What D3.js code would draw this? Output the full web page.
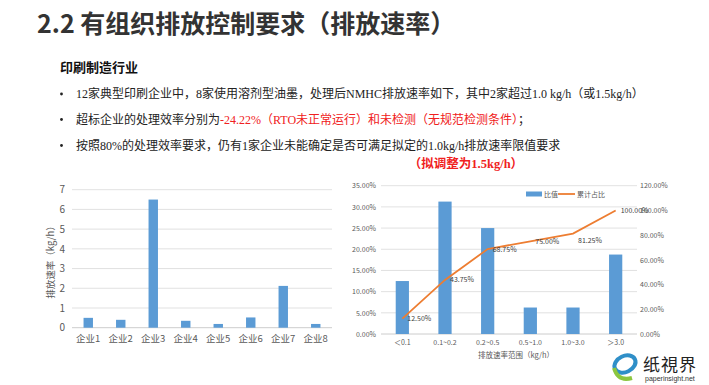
<!DOCTYPE html>
<html>
<head>
<meta charset="utf-8">
<script src="https://cdn.jsdelivr.net/npm/d3@7"></script>
<style>
  body { margin: 0; background: #fff; }
  svg { display: block; }
</style>
</head>
<body>
<script>
// left chart data
var companies = ['企业1', '企业2', '企业3', '企业4', '企业5', '企业6', '企业7', '企业8'],
    rates = [0.5, 0.4, 6.5, 0.35, 0.19, 0.52, 2.12, 0.19],
    leftTicks = [0, 1, 2, 3, 4, 5, 6, 7];

// right chart data
var ranges = ['＜0.1', '0.1~0.2', '0.2~0.5', '0.5~1.0', '1.0~3.0', '＞3.0'],
    ratio = [0.125, 0.3125, 0.25, 0.0625, 0.0625, 0.1875],
    cumulative = [0.125, 0.4375, 0.6875, 0.75, 0.8125, 1.0],
    ratioTicks = [0, 0.05, 0.10, 0.15, 0.20, 0.25, 0.30, 0.35],
    cumTicks = [0, 0.2, 0.4, 0.6, 0.8, 1.0, 1.2];

var W = 709, H = 385,
    serif = '"Liberation Serif", "Times New Roman", "Noto Sans CJK SC", serif',
    sans = '"Noto Sans CJK SC", "Liberation Sans", sans-serif',
    blue = '#5b9bd5', orange = '#ed7d31', grid = '#d9d9d9', tickCol = '#595959';

var svg = d3.select('body').append('svg')
    .attr('width', W)
    .attr('height', H);

//title
svg.append('text')
    .attr('x', 37).attr('y', 32.5)
    .attr('font-family', sans)
    .attr('font-size', '25px')
    .attr('font-weight', 'bold')
    .attr('fill', '#333')
    .text('2.2 有组织排放控制要求（排放速率）');

svg.append('text')
    .attr('x', 60).attr('y', 71.5)
    .attr('font-family', serif)
    .attr('font-size', '13px')
    .attr('font-weight', 'bold')
    .attr('fill', '#111')
    .text('印刷制造行业');

//bullet lines, each one a list of [text, colour] pieces
var bullets = [
    [['12家典型印刷企业中，8家使用溶剂型油墨，处理后NMHC排放速率如下，其中2家超过1.0 kg/h（或1.5kg/h）', '#222']],
    [['超标企业的处理效率分别为', '#222'], ['-24.22%（RTO未正常运行）和未检测（无规范检测条件）', '#f02020'], ['；', '#222']],
    [['按照80%的处理效率要求，仍有1家企业未能确定是否可满足拟定的1.0kg/h排放速率限值要求', '#222']]
];
var bulletY = [98, 123.5, 149.5];
bullets.forEach(function (parts, i) {
    svg.append('circle')
        .attr('cx', 61.5).attr('cy', bulletY[i] - 4)
        .attr('r', 1.4)
        .attr('fill', '#222');
    var t = svg.append('text')
        .attr('x', 76).attr('y', bulletY[i])
        .attr('font-family', serif)
        .attr('font-size', '12px');
    parts.forEach(function (p) {
        t.append('tspan').attr('fill', p[1]).text(p[0]);
    });
});

svg.append('text')
    .attr('x', 466).attr('y', 168)
    .attr('text-anchor', 'middle')
    .attr('font-family', serif)
    .attr('font-size', '12.5px')
    .attr('font-weight', 'bold')
    .attr('fill', '#f02020')
    .text('（拟调整为1.5kg/h）');

// ---------- left chart ----------
var lx = d3.scaleBand()
    .domain(companies)
    .range([72, 332])
    .paddingInner(0.71)
    .paddingOuter(0.355);
var ly = d3.scaleLinear()
    .domain([0, 7])
    .range([327.7, 189.7]);

var left = svg.append('g');
left.selectAll('line.grid')
    .data(leftTicks)
    .enter().append('line')
    .attr('class', 'grid')
    .attr('x1', 72).attr('x2', 332)
    .attr('y1', function (d) { return ly(d); })
    .attr('y2', function (d) { return ly(d); })
    .attr('stroke', function (d) { return d === 0 ? '#bfbfbf' : grid; })
    .attr('stroke-width', 0.8);

var lyAxis = d3.axisLeft(ly).tickValues(leftTicks).tickFormat(d3.format('d')).tickSize(0).tickPadding(7);
left.append('g')
    .attr('transform', 'translate(72,0)')
    .call(lyAxis)
    .call(function (g) { g.select('.domain').remove(); })
    .selectAll('text')
    .attr('font-family', sans)
    .attr('font-size', '10px')
    .attr('fill', tickCol);

left.selectAll('rect')
    .data(rates)
    .enter().append('rect')
    .attr('x', function (d, i) { return lx(companies[i]); })
    .attr('y', function (d) { return ly(d); })
    .attr('width', lx.bandwidth())
    .attr('height', function (d) { return ly(0) - ly(d); })
    .attr('fill', blue);

var lxAxis = d3.axisBottom(lx).tickSize(0).tickPadding(8);
left.append('g')
    .attr('transform', 'translate(0,' + ly(0) + ')')
    .call(lxAxis)
    .call(function (g) { g.select('.domain').remove(); })
    .selectAll('text')
    .attr('font-family', sans)
    .attr('font-size', '9.5px')
    .attr('fill', tickCol);

left.append('text')
    .attr('transform', 'translate(54,260) rotate(-90)')
    .attr('text-anchor', 'middle')
    .attr('font-family', sans)
    .attr('font-size', '9.5px')
    .attr('fill', tickCol)
    .text('排放速率（kg/h）');

// ---------- right chart ----------
var rx = d3.scaleBand()
    .domain(ranges)
    .range([381, 637])
    .paddingInner(0.69)
    .paddingOuter(0.345);
var ryL = d3.scaleLinear().domain([0, 0.35]).range([334, 185.7]);
var ryR = d3.scaleLinear().domain([0, 1.2]).range([334, 185.7]);
var pct = d3.format('.2%');

var right = svg.append('g');
right.selectAll('line.grid')
    .data(ratioTicks)
    .enter().append('line')
    .attr('class', 'grid')
    .attr('x1', 381).attr('x2', 637)
    .attr('y1', function (d) { return ryL(d); })
    .attr('y2', function (d) { return ryL(d); })
    .attr('stroke', function (d) { return d === 0 ? '#bfbfbf' : grid; })
    .attr('stroke-width', 0.8);

right.append('g')
    .attr('transform', 'translate(381,0)')
    .call(d3.axisLeft(ryL).tickValues(ratioTicks).tickFormat(pct).tickSize(0).tickPadding(5))
    .call(function (g) { g.select('.domain').remove(); })
    .selectAll('text')
    .attr('font-family', sans)
    .attr('font-size', '7px')
    .attr('fill', tickCol);

right.append('g')
    .attr('transform', 'translate(637,0)')
    .call(d3.axisRight(ryR).tickValues(cumTicks).tickFormat(pct).tickSize(0).tickPadding(3))
    .call(function (g) { g.select('.domain').remove(); })
    .selectAll('text')
    .attr('font-family', sans)
    .attr('font-size', '7px')
    .attr('fill', tickCol);

right.selectAll('rect.bar')
    .data(ratio)
    .enter().append('rect')
    .attr('class', 'bar')
    .attr('x', function (d, i) { return rx(ranges[i]); })
    .attr('y', function (d) { return ryL(d); })
    .attr('width', rx.bandwidth())
    .attr('height', function (d) { return ryL(0) - ryL(d); })
    .attr('fill', blue);

var cx = function (d, i) { return rx(ranges[i]) + rx.bandwidth() / 2; };
var line = d3.line()
    .x(cx)
    .y(function (d) { return ryR(d); });
right.append('path')
    .datum(cumulative)
    .attr('d', line)
    .attr('fill', 'none')
    .attr('stroke', orange)
    .attr('stroke-width', 1.8);

right.selectAll('text.lbl')
    .data(cumulative)
    .enter().append('text')
    .attr('class', 'lbl')
    .attr('x', function (d, i) { return cx(d, i) + 5; })
    .attr('y', function (d, i) { return ryR(d) + (i === 4 ? 9 : 2.5); })
    .attr('font-family', sans)
    .attr('font-size', '7px')
    .attr('fill', '#404040')
    .text(function (d) { return pct(d); });

right.append('g')
    .attr('transform', 'translate(0,334)')
    .call(d3.axisBottom(rx).tickSize(0).tickPadding(6))
    .call(function (g) { g.select('.domain').remove(); })
    .selectAll('text')
    .attr('font-family', sans)
    .attr('font-size', '7px')
    .attr('fill', tickCol);

right.append('text')
    .attr('x', 516).attr('y', 358)
    .attr('text-anchor', 'middle')
    .attr('font-family', sans)
    .attr('font-size', '7.5px')
    .attr('fill', tickCol)
    .text('排放速率范围（kg/h）');

//legend
var legend = right.append('g').attr('transform', 'translate(526,194)');
legend.append('rect')
    .attr('x', 0).attr('y', -2.5)
    .attr('width', 16).attr('height', 5)
    .attr('fill', blue);
legend.append('text')
    .attr('x', 18).attr('y', 2.5)
    .attr('font-family', sans)
    .attr('font-size', '7px')
    .attr('fill', tickCol)
    .text('比值');
legend.append('line')
    .attr('x1', 32).attr('x2', 49)
    .attr('y1', 0).attr('y2', 0)
    .attr('stroke', orange)
    .attr('stroke-width', 1.8);
legend.append('text')
    .attr('x', 51).attr('y', 2.5)
    .attr('font-family', sans)
    .attr('font-size', '7px')
    .attr('fill', tickCol)
    .text('累计占比');

// ---------- watermark logo ----------
var logo = svg.append('g');
logo.append('ellipse')
    .attr('cx', 625).attr('cy', 364)
    .attr('rx', 11).attr('ry', 8)
    .attr('fill', 'none')
    .attr('stroke', '#2f8fc8')
    .attr('stroke-width', 4)
    .attr('transform', 'rotate(-25,625,364)');
logo.append('path')
    .attr('d', 'M614,368 Q618,382 632,378')
    .attr('fill', 'none')
    .attr('stroke', '#8cc63f')
    .attr('stroke-width', 4);
logo.append('text')
    .attr('x', 643).attr('y', 371)
    .attr('font-family', sans)
    .attr('font-size', '17px')
    .attr('fill', '#222')
    .attr('letter-spacing', '1px')
    .text('纸視界');
logo.append('text')
    .attr('x', 645).attr('y', 380.5)
    .attr('font-family', '"Liberation Sans", sans-serif')
    .attr('font-size', '7px')
    .attr('fill', '#333')
    .text('paperinsight.net');
</script>
</body>
</html>
